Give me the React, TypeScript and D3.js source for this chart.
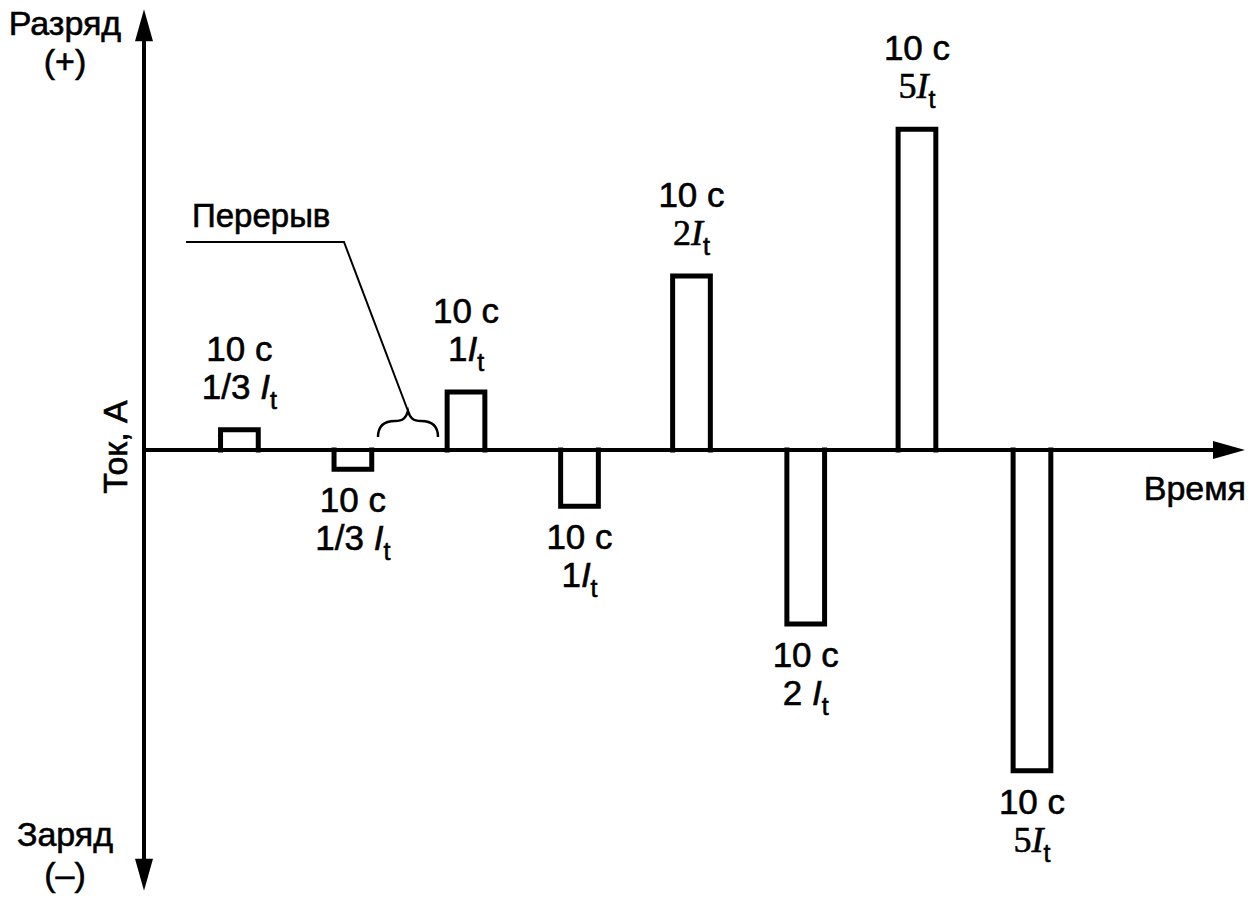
import React from "react";
import * as d3 from "d3";

const pulseStarts = [20.3, 50.4, 80.4, 110.5, 140.2, 170.5, 200.0, 230.5]; // s
const pulseDuration = 10; // s
const currents = [0.35, -0.33, 1.0, -0.97, 3.0, -3.0, 5.53, -5.53]; // relative drawn current
const coefLabels = ["1/3 ", "1/3 ", "1", "1", "2", "2 ", "5", "5"];
const durationLabel = "10 с";

const W = 1252;
const H = 900;
const SERIF = new Set([4, 6, 7]);
const SANS = "'Liberation Sans', Arial, Helvetica, sans-serif";
const SERIF_F = "'Liberation Serif', 'Times New Roman', serif";

export default function App() {
  const x = d3.scaleLinear().domain([0, 292]).range([144, 1245]);
  const y = d3.scaleLinear().domain([-7.5, 7.5]).range([885, 15]);
  const y0 = y(0);
  const axTop = y(7.6);
  const axBot = y(-7.6);
  const axRight = x(292);
  const ax = x(0);
  const txt = { fill: "#000", stroke: "#000", strokeWidth: 0.6 };

  return (
    <svg
      width={W}
      height={H}
      style={{ position: "absolute", left: 0, top: 0, background: "#fff" }}
      fontFamily={SANS}
    >
      <rect width={W} height={H} fill="#fff" />
      {/* vertical axis */}
      <line x1={ax} x2={ax} y1={axTop + 28} y2={axBot - 28} stroke="#000" strokeWidth={4} />
      <polygon points={`${ax},${axTop} ${ax - 9},${axTop + 32} ${ax + 9},${axTop + 32}`} fill="#000" />
      <polygon points={`${ax},${axBot} ${ax - 9},${axBot - 32} ${ax + 9},${axBot - 32}`} fill="#000" />
      {/* horizontal axis */}
      <line x1={ax} x2={axRight - 28} y1={y0} y2={y0} stroke="#000" strokeWidth={4} />
      <polygon points={`${axRight},${y0} ${axRight - 32},${y0 - 9} ${axRight - 32},${y0 + 9}`} fill="#000" />

      {/* pulses */}
      {pulseStarts.map((t, i) => {
        const v = currents[i];
        const x1 = x(t);
        const x2 = x(t + pulseDuration);
        const yv = y(v);
        const d = `M${x1},${y0} L${x1},${yv} L${x2},${yv} L${x2},${y0}`;
        const cx = (x1 + x2) / 2;
        const pos = v > 0;
        const b1 = pos ? yv - 69 : yv + 43;
        const b2 = pos ? yv - 31 : yv + 81;
        const serif = SERIF.has(i);
        return (
          <g key={i}>
            <path d={d} fill="none" stroke="#000" strokeWidth={5} strokeLinejoin="miter" strokeLinecap="square" />
            <text x={cx} y={b1} textAnchor="middle" fontSize={35} {...txt}>
              {durationLabel}
            </text>
            <text
              x={cx}
              y={b2}
              textAnchor="middle"
              fontSize={serif ? 36 : 35}
              {...txt}
              fontFamily={serif ? SERIF_F : SANS}
            >
              {coefLabels[i]}
              <tspan fontStyle="italic">I</tspan>
              <tspan fontSize={25} dy={10} fontFamily={SANS}>t</tspan>
            </text>
          </g>
        );
      })}

      {/* pause annotation */}
      <text x={192} y={227} fontSize={33} {...txt}>Перерыв</text>
      <polyline points="186,242 344,242 408,411" fill="none" stroke="#000" strokeWidth={2} />
      <path
        d="M378,437 C378,425 385,421 395,421 C403,421 406,418 408,411 C410,418 413,421 421,421 C431,421 438,425 438,437"
        fill="none"
        stroke="#000"
        strokeWidth={2.5}
      />

      {/* axis labels */}
      <text x={65} y={35} textAnchor="middle" fontSize={34} {...txt}>Разряд</text>
      <text x={65} y={73} textAnchor="middle" fontSize={34} {...txt}>(+)</text>
      <text x={65} y={846} textAnchor="middle" fontSize={34} {...txt}>Заряд</text>
      <text x={65} y={886} textAnchor="middle" fontSize={34} {...txt}>(–)</text>
      <text transform={`translate(127,447) rotate(-90)`} textAnchor="middle" fontSize={34} {...txt}>
        Ток, А
      </text>
      <text x={1246} y={500} textAnchor="end" fontSize={34} {...txt}>Время</text>
    </svg>
  );
}
